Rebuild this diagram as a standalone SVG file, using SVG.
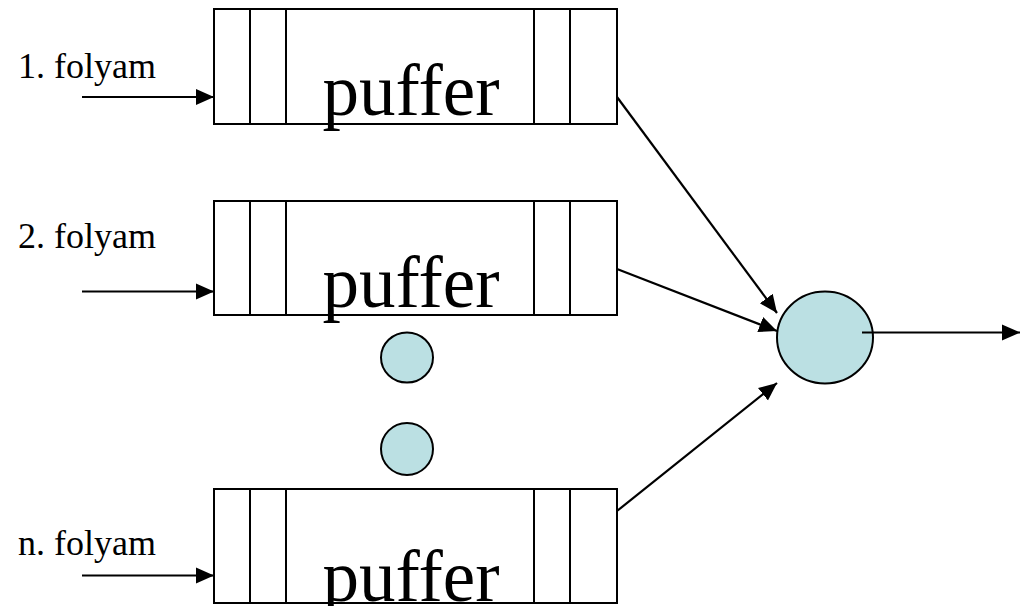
<svg xmlns="http://www.w3.org/2000/svg" width="1020" height="606" viewBox="0 0 1020 606">
  <style>
    .box { fill: #ffffff; stroke: #000000; stroke-width: 2; }
    .div { stroke: #000000; stroke-width: 2; }
    .big { font-family: "Liberation Serif", "Times New Roman", serif; font-size: 73px; fill: #000000; text-anchor: middle; }
    .lbl { font-family: "Liberation Serif", "Times New Roman", serif; font-size: 36px; fill: #000000; }
    .dot { fill: #bbe0e3; stroke: #000000; stroke-width: 2; }
    .edge { stroke: #000000; stroke-width: 2.2; fill: none; marker-end: url(#arrow); }
  </style>
  <defs>
    <marker id="arrow" markerUnits="userSpaceOnUse" markerWidth="19" markerHeight="18" refX="18" refY="9" orient="auto">
      <path d="M0,1 L18,9 L0,17 Z" fill="#000000"/>
    </marker>
  </defs>

  <rect width="1020" height="606" fill="#ffffff"/>

  <!-- stream labels -->
  <text class="lbl" x="18" y="78">1. folyam</text>
  <text class="lbl" x="18" y="248">2. folyam</text>
  <text class="lbl" x="18" y="555">n. folyam</text>

  <!-- buffers -->
  <g id="buffer1">
    <rect class="box" x="214" y="9" width="403" height="115"/>
    <line class="div" x1="250" y1="9" x2="250" y2="124"/>
    <line class="div" x1="286" y1="9" x2="286" y2="124"/>
    <line class="div" x1="534" y1="9" x2="534" y2="124"/>
    <line class="div" x1="570" y1="9" x2="570" y2="124"/>
    <text class="big" x="411" y="115">puffer</text>
  </g>
  <g id="buffer2">
    <rect class="box" x="214" y="201" width="403" height="114"/>
    <line class="div" x1="250" y1="201" x2="250" y2="315"/>
    <line class="div" x1="286" y1="201" x2="286" y2="315"/>
    <line class="div" x1="534" y1="201" x2="534" y2="315"/>
    <line class="div" x1="570" y1="201" x2="570" y2="315"/>
    <text class="big" x="411" y="307">puffer</text>
  </g>
  <g id="buffer3">
    <rect class="box" x="214" y="489" width="403" height="114"/>
    <line class="div" x1="250" y1="489" x2="250" y2="603"/>
    <line class="div" x1="286" y1="489" x2="286" y2="603"/>
    <line class="div" x1="534" y1="489" x2="534" y2="603"/>
    <line class="div" x1="570" y1="489" x2="570" y2="603"/>
    <text class="big" x="411" y="601">puffer</text>
  </g>

  <!-- ellipsis dots between buffers -->
  <g id="dots">
    <ellipse class="dot" cx="407" cy="357.5" rx="26" ry="25"/>
    <ellipse class="dot" cx="407" cy="449" rx="26" ry="26"/>
  </g>

  <!-- server -->
  <g id="server">
    <ellipse class="dot" cx="825" cy="337.5" rx="48" ry="46"/>
  </g>

  <!-- connectors -->
  <g id="connectors">
    <line class="edge" x1="82" y1="97" x2="214" y2="97"/>
    <line class="edge" x1="82" y1="291.5" x2="214" y2="291.5"/>
    <line class="edge" x1="82" y1="575.5" x2="214" y2="575.5"/>
    <line class="edge" x1="617" y1="97" x2="777" y2="313"/>
    <line class="edge" x1="617" y1="269" x2="777" y2="331"/>
    <line class="edge" x1="617" y1="511" x2="777" y2="383"/>
    <line class="edge" x1="862" y1="332.5" x2="1020" y2="332.5"/>
  </g>
</svg>
